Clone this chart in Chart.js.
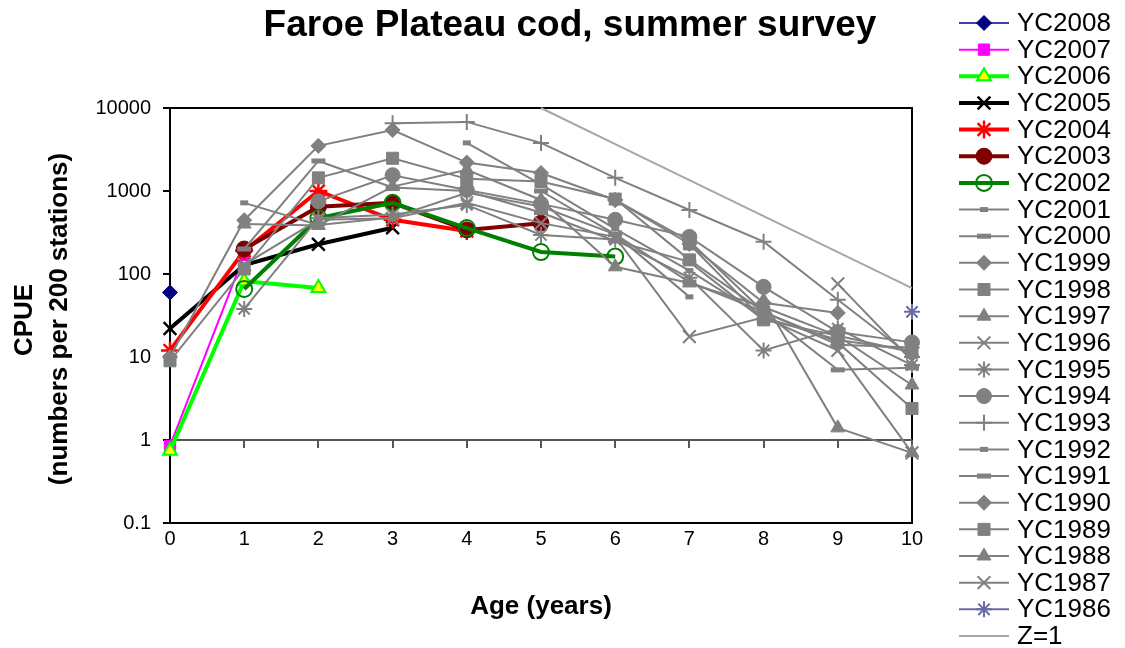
<!DOCTYPE html>
<html>
<head>
<meta charset="utf-8">
<script src="https://cdn.jsdelivr.net/npm/chart.js@4.4.1/dist/chart.umd.min.js"></script>
<style>
  html, body { margin: 0; padding: 0; background: #fff; }
  #wrap { width: 1125px; height: 648px; }
</style>
</head>
<body>
<div id="wrap"><canvas id="chart" width="1125" height="648"></canvas></div>
<script>
// ages on the x axis (years)
var ages = [0, 1, 2, 3, 4, 5, 6, 7, 8, 9, 10];
var yTickValues = [0.1, 1, 10, 100, 1000, 10000];

// CPUE by age, one array per year class (null = not surveyed)
var yc2008 = [60];
var yc2007 = [0.85, 170];
var yc2006 = [0.74, 82, 68];
var yc2005 = [22, 128, 228, 360];
var yc2004 = [12, 190, 1000, 450, 330];
var yc2003 = [null, 200, 645, 720, 340, 410];
var yc2002 = [null, 66, 470, 720, 358, 184, 162];
var yc2001 = [null, 720, 390, 480, 950, 650, 300, 53];
var yc2000 = [null, 200, 2300, 1100, 1000, 550, 250, 140, 28];
var yc1999 = [10, 445, 3500, 5430, 2200, 1650, 780, 230, 45, 34];
var yc1998 = [9, 115, 1440, 2480, 1400, 1300, 800, 148, 35, 15, 2.4];
var yc1997 = [null, 400, 385, 1130, 1800, 780, 122, 78, 40, 18, 4.6];
var yc1996 = [null, 130, 450, 470, 720, 410, 280, 17.6, 30, 12, 0.7];
var yc1995 = [null, 38, 470, 520, 680, 295, 260, 90, 12, 22, 8];
var yc1994 = [null, null, 750, 1550, 1030, 700, 450, 280, 70, 20, 15];
var yc1993 = [null, null, null, 6560, 6800, 3800, 1440, 590, 245, 49, 10];
var yc1992 = [null, null, null, null, 3800, 1200, 350, 110, 30, 16, 12];
var yc1991 = [null, null, null, null, null, 1000, 300, 80, 35, 7, 7.4];
var yc1990 = [null, null, null, null, null, null, 780, 250, 35, 14, 13];
var yc1989 = [null, null, null, null, null, null, null, 230, 28, 18, 11.4];
var yc1988 = [null, null, null, null, null, null, null, null, 48, 1.4, 0.7];
var yc1987 = [null, null, null, null, null, null, null, null, null, 76, 9];
var yc1986 = [null, null, null, null, null, null, null, null, null, null, 35];
var zLine = [null, null, null, null, null, 10000, 3679, 1353, 498, 183, 67.4];

var seriesNames = ['YC2008', 'YC2007', 'YC2006', 'YC2005', 'YC2004', 'YC2003', 'YC2002',
    'YC2001', 'YC2000', 'YC1999', 'YC1998', 'YC1997', 'YC1996', 'YC1995', 'YC1994',
    'YC1993', 'YC1992', 'YC1991', 'YC1990', 'YC1989', 'YC1988', 'YC1987', 'YC1986', 'Z=1'];
var seriesValues = [yc2008, yc2007, yc2006, yc2005, yc2004, yc2003, yc2002,
    yc2001, yc2000, yc1999, yc1998, yc1997, yc1996, yc1995, yc1994,
    yc1993, yc1992, yc1991, yc1990, yc1989, yc1988, yc1987, yc1986, zLine];

var GRAY = '#808080';
var styles = [
    {color: '#000080', width: 1.5, marker: 'rectRot', r: 7.5, fill: '#000080', mbw: 1},
    {color: '#ff00ff', width: 2, marker: 'rect', r: 8, fill: '#ff00ff', mbw: 1},
    {color: '#00ff00', width: 4, marker: 'triangle', r: 8, fill: '#ffff00', mbw: 2},
    {color: '#000000', width: 4, marker: 'crossRot', r: 9, fill: '#000000', mbw: 2.5},
    {color: '#ff0000', width: 4, marker: 'star', r: 9, fill: '#ff0000', mbw: 2.5},
    {color: '#800000', width: 4, marker: 'circle', r: 8, fill: '#800000', mbw: 1},
    {color: '#008000', width: 4, marker: 'circle', r: 8, fill: 'rgba(0,0,0,0)', mbw: 2},
    {color: GRAY, width: 2, marker: 'line', r: 4, fill: GRAY, mbw: 5},
    {color: GRAY, width: 2, marker: 'line', r: 7, fill: GRAY, mbw: 5},
    {color: GRAY, width: 2, marker: 'rectRot', r: 7.5, fill: GRAY, mbw: 1},
    {color: GRAY, width: 2, marker: 'rect', r: 8.5, fill: GRAY, mbw: 1},
    {color: GRAY, width: 2, marker: 'triangle', r: 8, fill: GRAY, mbw: 1},
    {color: GRAY, width: 2, marker: 'crossRot', r: 9, fill: GRAY, mbw: 2},
    {color: GRAY, width: 2, marker: 'star', r: 8, fill: GRAY, mbw: 2},
    {color: GRAY, width: 2, marker: 'circle', r: 7.5, fill: GRAY, mbw: 1},
    {color: GRAY, width: 2, marker: 'cross', r: 8, fill: GRAY, mbw: 2},
    {color: GRAY, width: 2, marker: 'line', r: 4, fill: GRAY, mbw: 5},
    {color: GRAY, width: 2, marker: 'line', r: 7, fill: GRAY, mbw: 5},
    {color: GRAY, width: 2, marker: 'rectRot', r: 7.5, fill: GRAY, mbw: 1},
    {color: GRAY, width: 2, marker: 'rect', r: 8.5, fill: GRAY, mbw: 1},
    {color: GRAY, width: 2, marker: 'triangle', r: 8, fill: GRAY, mbw: 1},
    {color: GRAY, width: 2, marker: 'crossRot', r: 9, fill: GRAY, mbw: 2},
    {color: '#6b6ba3', width: 2, marker: 'star', r: 8, fill: '#6b6ba3', mbw: 2},
    {color: '#a6a6a6', width: 2, marker: false, r: 0, fill: '#a6a6a6', mbw: 0}
];

var FONT = "'Liberation Sans', Arial, sans-serif";

var datasets = [];
for (var i = 0; i < seriesNames.length; i++) {
    var pts = [];
    for (var a = 0; a < seriesValues[i].length; a++) {
        if (seriesValues[i][a] != null) {
            pts.push({x: ages[a], y: seriesValues[i][a]});
        }
    }
    var st = styles[i];
    datasets.push({
        label: seriesNames[i],
        data: pts,
        borderColor: st.color,
        borderWidth: st.width,
        pointStyle: st.marker,
        pointRadius: st.r,
        pointBackgroundColor: st.fill,
        pointBorderColor: st.color,
        pointBorderWidth: st.mbw,
        fill: false,
        tension: 0,
        clip: false,
        order: -i
    });
}

function isDecade(v) {
    var l = Math.log10(v);
    return Math.abs(l - Math.round(l)) < 1e-9;
}

// axes, border and all the text that Excel put round the plot
var framePlugin = {
    id: 'frame',
    beforeDatasetsDraw: function(chart) {
        var ctx = chart.ctx, area = chart.chartArea;
        var xs = chart.scales.x, ys = chart.scales.y;
        ctx.save();
        // plot border
        ctx.strokeStyle = '#000';
        ctx.lineWidth = 2;
        ctx.beginPath();
        ctx.moveTo(area.left, area.top);
        ctx.lineTo(area.right, area.top);
        ctx.lineTo(area.right, area.bottom);
        ctx.lineTo(area.left, area.bottom);
        ctx.closePath();
        ctx.stroke();
        // y ticks
        for (var k = 0; k < yTickValues.length; k++) {
            var py = Math.round(ys.getPixelForValue(yTickValues[k]));
            ctx.beginPath();
            ctx.moveTo(area.left - 7, py);
            ctx.lineTo(area.left, py);
            ctx.stroke();
        }
        // x axis crosses at 1
        var y1 = Math.round(ys.getPixelForValue(1));
        ctx.strokeStyle = '#555';
        ctx.beginPath();
        ctx.moveTo(area.left, y1);
        ctx.lineTo(area.right, y1);
        ctx.stroke();
        for (var t = 0; t < ages.length; t++) {
            var px = Math.round(xs.getPixelForValue(ages[t]));
            ctx.beginPath();
            ctx.moveTo(px, y1);
            ctx.lineTo(px, y1 + 8);
            ctx.stroke();
        }
        ctx.restore();
    },
    afterDraw: function(chart) {
        var ctx = chart.ctx;
        ctx.save();
        ctx.fillStyle = '#000';
        ctx.textAlign = 'center';
        ctx.textBaseline = 'alphabetic';
        ctx.font = 'bold 37px ' + FONT;
        ctx.fillText('Faroe Plateau cod, summer survey', 570, 36);

        ctx.textBaseline = 'middle';
        ctx.font = 'bold 26px ' + FONT;
        ctx.fillText('Age (years)', 541, 607);

        ctx.save();
        ctx.translate(25, 320);
        ctx.rotate(-Math.PI / 2);
        ctx.fillText('CPUE', 0, 0);
        ctx.restore();
        ctx.save();
        ctx.translate(60, 319);
        ctx.rotate(-Math.PI / 2);
        ctx.fillText('(numbers per 200 stations)', 0, 0);
        ctx.restore();

        // legend
        var drawPoint = Chart.helpers && Chart.helpers.drawPoint;
        ctx.textAlign = 'left';
        ctx.font = '26px ' + FONT;
        for (var i = 0; i < seriesNames.length; i++) {
            var st = styles[i];
            var ly = 23 + i * 26.65;
            ctx.strokeStyle = st.color;
            ctx.lineWidth = st.width;
            ctx.beginPath();
            ctx.moveTo(959, ly);
            ctx.lineTo(1009, ly);
            ctx.stroke();
            if (st.marker && drawPoint) {
                ctx.fillStyle = st.fill;
                ctx.strokeStyle = st.color;
                ctx.lineWidth = st.mbw;
                drawPoint(ctx, {pointStyle: st.marker, radius: st.r, rotation: 0, borderWidth: st.mbw}, 984, ly);
            }
            ctx.fillStyle = '#000';
            ctx.fillText(seriesNames[i], 1017, ly + 1);
        }
        ctx.restore();
    }
};

new Chart(document.getElementById('chart').getContext('2d'), {
    type: 'line',
    data: {datasets: datasets},
    plugins: [framePlugin],
    options: {
        responsive: false,
        animation: false,
        devicePixelRatio: 1,
        layout: {padding: {left: 0, right: 213, top: 108, bottom: 0}},
        plugins: {
            legend: {display: false},
            title: {display: false},
            tooltip: {enabled: false}
        },
        scales: {
            x: {
                type: 'linear',
                min: 0,
                max: 10,
                grid: {display: false, drawTicks: false},
                border: {display: false},
                ticks: {stepSize: 1, color: '#000', font: {family: FONT, size: 20}, padding: 4, maxRotation: 0},
                afterFit: function(scale) { scale.height = 125; }
            },
            y: {
                type: 'logarithmic',
                min: 0.1,
                max: 10000,
                grid: {display: false, drawTicks: false},
                border: {display: false},
                ticks: {
                    autoSkip: false,
                    color: '#000',
                    font: {family: FONT, size: 20},
                    padding: 19,
                    callback: function(v) {
                        if (!isDecade(v)) return '';
                        return v < 1 ? v.toFixed(1) : String(Math.round(v));
                    }
                },
                afterFit: function(scale) { scale.width = 170; }
            }
        }
    }
});
</script>
</body>
</html>
